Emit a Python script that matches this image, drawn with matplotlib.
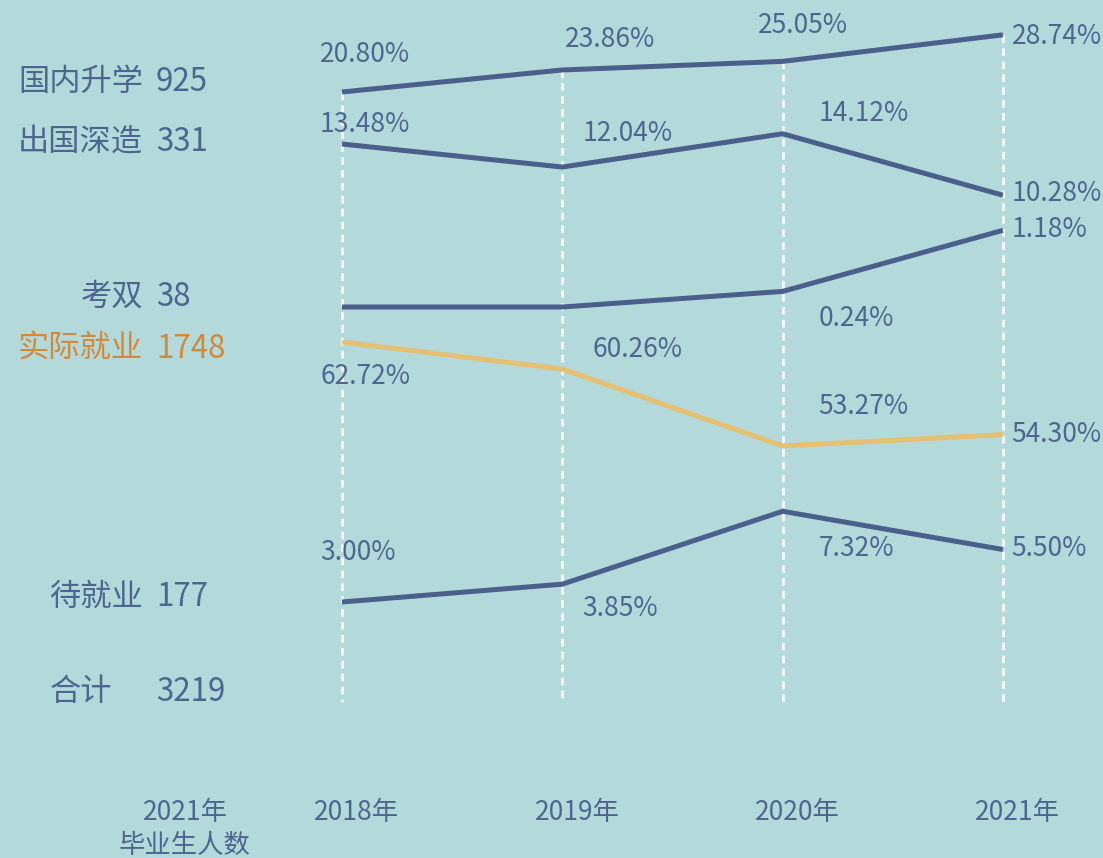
import matplotlib
matplotlib.use("Agg")
import matplotlib.pyplot as plt

plt.rcParams['font.family'] = ['Noto Sans CJK SC', 'DejaVu Sans']
plt.rcParams['lines.scale_dashes'] = False

# data
years = [2018, 2019, 2020, 2021]
year_labels = ["2018年", "2019年", "2020年", "2021年"]

names = ["国内升学", "出国深造", "考双", "实际就业", "待就业"]
counts = [925, 331, 38, 1748, 177]
total = 3219

domestic = [20.80, 23.86, 25.05, 28.74]
abroad = [13.48, 12.04, 14.12, 10.28]
kaoshuang = [0.0, 0.0, 0.24, 1.18]
employed = [62.72, 60.26, 53.27, 54.30]
waiting = [3.00, 3.85, 7.32, 5.50]
series = [domestic, abroad, kaoshuang, employed, waiting]
# which points get a % label (kaoshuang 2018/2019 have none)
shown = [[1, 1, 1, 1], [1, 1, 1, 1], [0, 0, 1, 1], [1, 1, 1, 1], [1, 1, 1, 1]]

# layout: each series lives in its own band (pixel anchor, pixel per %)
bands = [(92, 7.2), (144, 16.0), (307, 65.0), (342, 11.0), (602, 21.0)]
label_off = [
    [(-22, -37), (3, -30), (-25, -36), (9, 2)],
    [(-22, -19), (20, -34), (36, -20), (9, -2)],
    [None, None, (36, 27), (9, -1)],
    [(-22, 34), (30, -20), (36, -39), (8, 0)],
    [(-22, -49), (20, 24), (36, 37), (8, -1)],
]
name_y = [82, 142, 297, 349, 597]

BG = "#b3d9da"
BLUE = "#4a5f8b"
TEXT = "#4e6590"
ORANGE_LINE = "#e6c072"
ORANGE_TEXT = "#d4893a"
colors = [BLUE, BLUE, BLUE, ORANGE_LINE, BLUE]

W, H = 1103, 858
fig = plt.figure(figsize=(W / 100, H / 100), dpi=100, facecolor=BG)
ax = fig.add_axes([0, 0, 1, 1])
ax.set_facecolor(BG)
ax.set_xlim(0, W)
ax.set_ylim(H, 0)
ax.axis("off")

x0, dx = 342, 220.3
def xpos(yr):
    return x0 + (yr - years[0]) * dx

xs = [xpos(y) for y in years]

def ypix(i, v):
    base, k = bands[i]
    return base - (v - series[i][0]) * k

# dashed guides from top line down
top = [ypix(0, v) for v in domestic]
for x, t in zip(xs, top):
    ax.plot([x, x], [t, 702], color="white", lw=1.8, dashes=(5.5, 3.8), zorder=1)

for i, vals in enumerate(series):
    ys = [ypix(i, v) for v in vals]
    ax.plot(xs, ys, color=colors[i], lw=3.6, zorder=3, solid_capstyle="butt")
    for j, v in enumerate(vals):
        if not shown[i][j]:
            continue
        ox, oy = label_off[i][j]
        ax.text(xs[j] + ox, ys[j] + oy, f"{v:.2f}%", fontsize=19, color=TEXT,
                ha="left", va="center", zorder=4)

for i, (nm, c) in enumerate(zip(names, counts)):
    col = ORANGE_TEXT if nm == "实际就业" else TEXT
    ax.text(143, name_y[i], nm, fontsize=22.5, color=col, ha="right", va="center")
    ax.text(156, name_y[i], str(c), fontsize=22.5, color=col, ha="left", va="center")
ax.text(50, 692, "合计", fontsize=22.5, color=TEXT, ha="left", va="center")
ax.text(156, 692, str(total), fontsize=22.5, color=TEXT, ha="left", va="center")

for x, lab in zip(xs, year_labels):
    ax.text(x + 15, 812, lab, fontsize=19, color=TEXT, ha="center", va="center")
ax.text(185, 812, "2021年", fontsize=19, color=TEXT, ha="center", va="center")
ax.text(185, 845, "毕业生人数", fontsize=19, color=TEXT, ha="center", va="center")

fig.savefig("out.png", dpi=100, facecolor=BG)
